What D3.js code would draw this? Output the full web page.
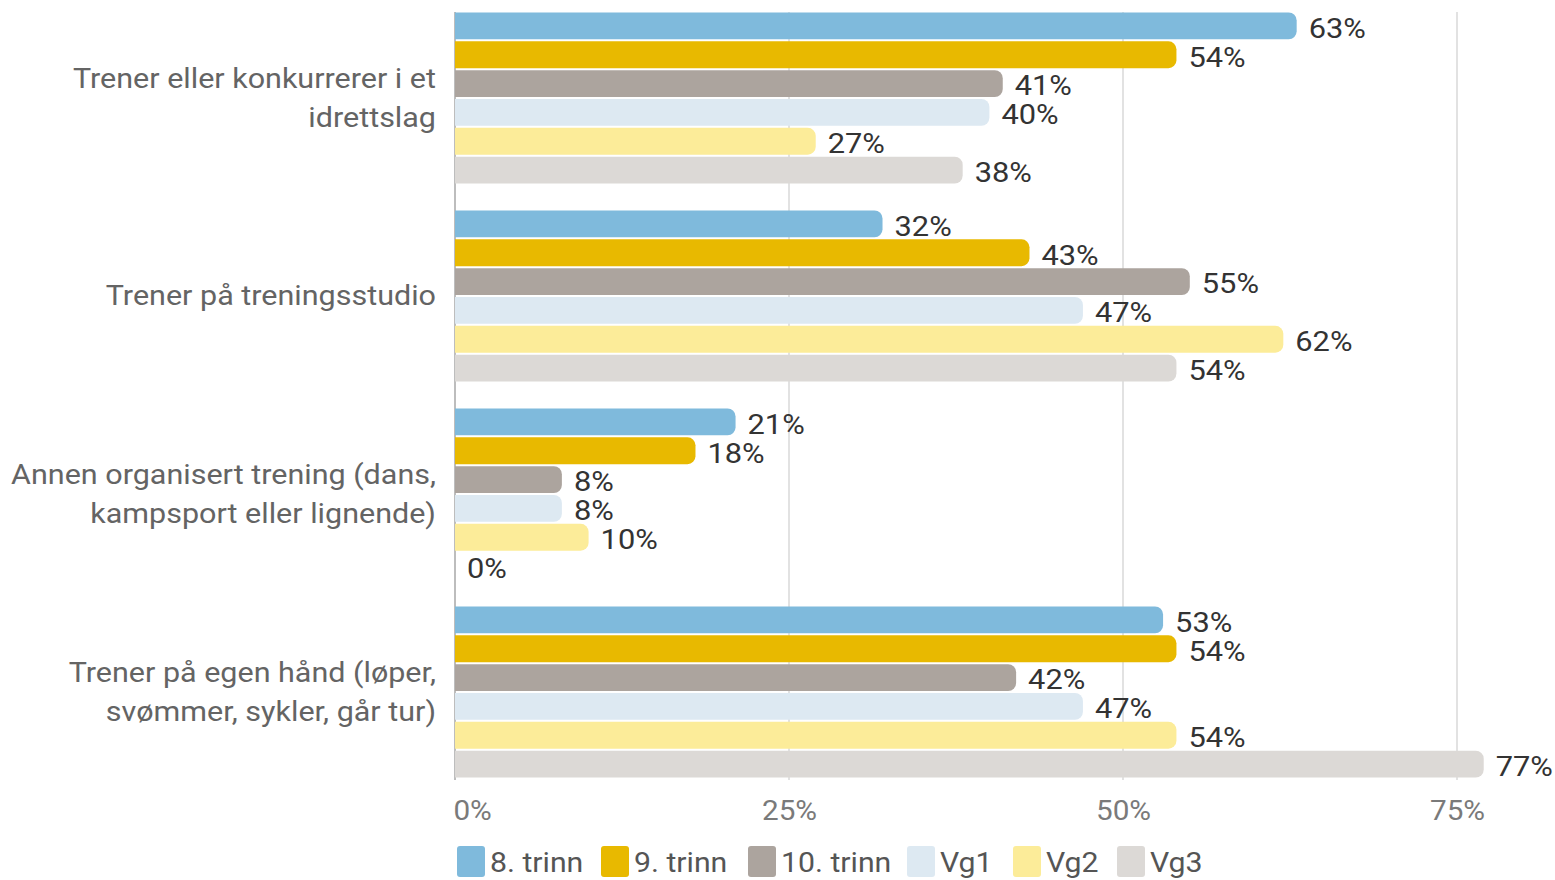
<!DOCTYPE html>
<html><head><meta charset="utf-8">
<script src="https://cdn.jsdelivr.net/npm/d3@7"></script>
<style>body{margin:0;background:#fff}svg{display:block;font-family:Roboto,"Noto Sans",sans-serif}</style>
</head><body>
<svg id="c" width="1555" height="880"></svg>
<script>
const categories = [
  ["Trener eller konkurrerer i et", "idrettslag"],
  ["Trener på treningsstudio"],
  ["Annen organisert trening (dans,", "kampsport eller lignende)"],
  ["Trener på egen hånd (løper,", "svømmer, sykler, går tur)"]
];
const seriesNames = ["8. trinn", "9. trinn", "10. trinn", "Vg1", "Vg2", "Vg3"];
const seriesColors = ["#7fbadc", "#e8b900", "#aca49e", "#dde9f2", "#fcec99", "#dcd9d6"];
const s8 = [63, 32, 21, 53];
const s9 = [54, 43, 18, 54];
const s10 = [41, 55, 8, 42];
const sVg1 = [40, 47, 8, 47];
const sVg2 = [27, 62, 10, 54];
const sVg3 = [38, 54, 0, 77];
const seriesValues = [s8, s9, s10, sVg1, sVg2, sVg3];
const tickValues = [0, 25, 50, 75];

const svg = d3.select("#c");
const x = d3.scaleLinear().domain([0, 75]).range([455, 1457]);
const catIdx = d3.range(categories.length);
const y0 = d3.scaleBand().domain(catIdx).range([-1, 791]).paddingInner(0.136).paddingOuter(0.068);
const y1 = d3.scaleBand().domain(d3.range(seriesNames.length)).range([0, y0.bandwidth()]).paddingInner(0.07).paddingOuter(0);

function stext(parent, tx, ty, sx, txt) {
  return parent.append("text").attr("transform", `translate(${tx},${ty}) scale(${sx},1)`).text(txt);
}

// grid
svg.append("g").selectAll("line").data(tickValues.filter(d => d > 0)).join("line")
  .attr("x1", d => x(d)).attr("x2", d => x(d)).attr("y1", 12).attr("y2", 780)
  .attr("stroke", "#d9d9d9").attr("stroke-width", 1.5);
svg.append("line").attr("x1", x(0)).attr("x2", x(0)).attr("y1", 12).attr("y2", 780)
  .attr("stroke", "#bdbdbd").attr("stroke-width", 2);

// axis labels
const xAxis = d3.axisBottom(x).tickValues(tickValues).tickFormat(d => d + "%").tickSize(0).tickPadding(0);
const ax = svg.append("g").attr("transform", "translate(0,800)").call(xAxis);
ax.select(".domain").remove();
ax.selectAll("text").attr("font-size", 28).attr("fill", "#7a7a7a").attr("dy", "0.71em")
  .attr("font-family", "Roboto")
  .attr("text-anchor", d => d === 0 ? "start" : "middle")
  .attr("dx", d => d === 0 ? -2 : 0)
  .attr("transform", "scale(1.06,1)");

function barPath(x0, x1, yy, h, r) {
  const w = x1 - x0;
  if (w <= 0) return "";
  r = Math.min(r, w, h / 2);
  return `M${x0},${yy}H${x1 - r}A${r},${r} 0 0 1 ${x1},${yy + r}V${yy + h - r}A${r},${r} 0 0 1 ${x1 - r},${yy + h}H${x0}Z`;
}

const g = svg.append("g");
catIdx.forEach(ci => {
  seriesValues.forEach((vals, si) => {
    const v = vals[ci];
    const yy = y0(ci) + y1(si);
    const h = y1.bandwidth();
    g.append("path").attr("d", barPath(x(0), x(v), yy, h, 8)).attr("fill", seriesColors[si]);
    stext(g, x(v) + 12, yy + h / 2 + 2, 1.1, v + "%").attr("dy", "0.35em")
      .attr("font-size", 28).attr("fill", "#333");
  });
  const lines = categories[ci];
  const cy = y0(ci) + y0.bandwidth() / 2;
  const lh = 39;
  lines.forEach((ln, li) => {
    stext(svg, 436, cy + (li - (lines.length - 1) / 2) * lh, 1.13, ln)
      .attr("dy", "0.35em").attr("text-anchor", "end").attr("font-size", 27).attr("fill", "#646464");
  });
});

// legend
const legendX = [457, 601, 748, 907, 1013, 1117];
const lg = svg.append("g");
seriesNames.forEach((n, i) => {
  lg.append("rect").attr("x", legendX[i]).attr("y", 846).attr("width", 28).attr("height", 31).attr("rx", 3).attr("fill", seriesColors[i]);
  stext(lg, legendX[i] + 33, 862, 1.08, n).attr("dy", "0.35em")
    .attr("font-size", 28).attr("fill", "#555");
});
</script>
</body></html>
